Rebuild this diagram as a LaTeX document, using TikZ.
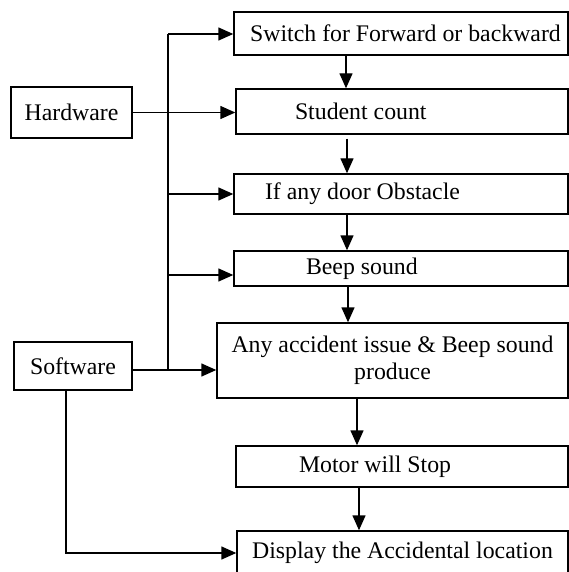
\documentclass[tikz,border=0pt]{standalone}
\usepackage{fontspec}
\setmainfont{Liberation Serif}
\usetikzlibrary{arrows.meta}

\begin{document}
\begin{tikzpicture}[x=1pt,y=-1pt,line width=1.4pt,
	box/.style={draw, rectangle, font=\fontsize{23.8}{27}\selectfont},
	arr/.style={-{Triangle[length=15pt,width=13pt]}}]
			\useasboundingbox (0,0) rectangle (569,572);
			\clip (0,0) rectangle (569,572);
			\node[box, minimum width=121pt, minimum height=51pt] (hw) at (71.5,112.5) {Hardware};
			\node[box, minimum width=118pt, minimum height=48pt] (sw) at (73,366) {Software};
			\node[box, minimum width=334pt, minimum height=43pt] (switch) at (401,33.5) {\hspace*{9pt}Switch for Forward or backward};
			\node[box, minimum width=332pt, minimum height=45pt, text width=214pt, inner xsep=59pt, align=flush left] (student) at (402,111.5) {Student count};
			\node[box, minimum width=334pt, minimum height=40pt, text width=272pt, inner xsep=31pt, align=flush left] (door) at (401,194) {If any door Obstacle};
			\node[box, minimum width=334pt, minimum height=35pt, text width=190pt, inner xsep=72pt, align=flush left] (beep) at (401,268.5) {Beep sound};
			\node[box, minimum width=351pt, minimum height=75pt, align=center] (accident) at (392.5,360.5) {Any accident issue \& Beep sound\\produce};
			\node[box, minimum width=332pt, minimum height=41pt, text width=206pt, inner xsep=63pt, align=flush left] (motor) at (402,466.5) {Motor will Stop};
			\node[box, minimum width=331pt, minimum height=44pt] (display) at (402.5,553) {Display the Accidental location};
			\coordinate (bustop) at (168,34);
			\coordinate (busbot) at (168,370);
			\draw (bustop) -- (busbot);
			\draw[arr] (bustop) -- (bustop -| switch.west);
			\draw[arr] (hw.east) -- (hw.east -| student.west);
			\draw[arr] (bustop |- door.west) -- (door.west);
			\draw[arr] (bustop |- beep.west) ++(0,6.5) -- ([yshift=-6.5pt]beep.west);
			\draw[arr] (sw.east |- busbot) -- (busbot -| accident.west);
			\draw[arr] ([xshift=-7pt]sw.south) |- (display.west);
			\draw[arr] ([xshift=-55pt]switch.south) -- ([xshift=-55pt]switch.south |- student.north);
			\draw[arr] ([xshift=-55pt]student.south) ++(0,4) -- ([xshift=-55pt]student.south |- door.north);
			\draw[arr] ([xshift=-54pt]door.south) -- ([xshift=-54pt]door.south |- beep.north);
			\draw[arr] ([xshift=-53pt]beep.south) -- ([xshift=-53pt]beep.south |- accident.north);
			\draw[arr] ([xshift=-35.5pt]accident.south) -- ([xshift=-35.5pt]accident.south |- motor.north);
			\draw[arr] ([xshift=-43pt]motor.south) -- ([xshift=-43pt]motor.south |- display.north);
			\end{tikzpicture}
\end{document}
